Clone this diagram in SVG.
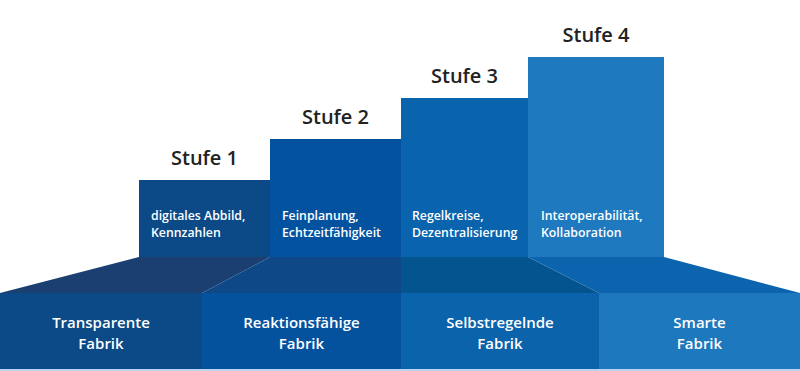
<svg xmlns="http://www.w3.org/2000/svg" width="800" height="371" viewBox="0 0 800 371">
<style>
.h{font-family:"Open Sans","Noto Sans",sans-serif;font-weight:600;font-size:20px;fill:#222;text-anchor:middle}
.t{font-family:"Open Sans","Noto Sans",sans-serif;font-weight:600;font-size:12.3px;fill:#fff}
.b{font-family:"Open Sans","Noto Sans",sans-serif;font-weight:600;font-size:15px;fill:#fff;text-anchor:middle}
</style>
<rect width="800" height="371" fill="#fff"/>
<g id="base">
<rect x="0" y="368.5" width="800" height="2.5" fill="#bcd4ec"/>
<g id="fabrik1">
<polygon points="139,257 270,257 202,293 0,293" fill="#1a3f70"/>
<rect x="0" y="293" width="202" height="76" fill="#0b4a86"/>
<text class="b" x="101" y="328">Transparente</text>
<text class="b" x="101" y="349">Fabrik</text>
</g>
<g id="fabrik2">
<polygon points="270,257 401,257 401,293 202,293" fill="#0f4887"/>
<rect x="202" y="293" width="199" height="76" fill="#04529e"/>
<text class="b" x="301.5" y="328">Reaktionsfähige</text>
<text class="b" x="301.5" y="349">Fabrik</text>
</g>
<g id="fabrik3">
<polygon points="401,257 528,257 599,293 401,293" fill="#04558f"/>
<rect x="401" y="293" width="198" height="76" fill="#0a63ab"/>
<text class="b" x="500" y="328">Selbstregelnde</text>
<text class="b" x="500" y="349">Fabrik</text>
</g>
<g id="fabrik4">
<polygon points="528,257 664,257 800,293 599,293" fill="#0b64ad"/>
<rect x="599" y="293" width="201" height="76" fill="#1e78be"/>
<text class="b" x="699.5" y="328">Smarte</text>
<text class="b" x="699.5" y="349">Fabrik</text>
</g>
</g>
<g id="stufe1">
<rect x="139" y="180" width="131" height="77" fill="#0b4a87"/>
<text class="h" x="204.5" y="165">Stufe 1</text>
<text class="t" x="151" y="220">digitales Abbild,</text>
<text class="t" x="151" y="237">Kennzahlen</text>
</g>
<g id="stufe2">
<rect x="270" y="139" width="131" height="118" fill="#03529f"/>
<text class="h" x="335.5" y="124">Stufe 2</text>
<text class="t" x="282" y="220">Feinplanung,</text>
<text class="t" x="282" y="237">Echtzeitfähigkeit</text>
</g>
<g id="stufe3">
<rect x="401" y="98" width="127" height="159" fill="#0a63ad"/>
<text class="h" x="464.5" y="83">Stufe 3</text>
<text class="t" x="412" y="220">Regelkreise,</text>
<text class="t" x="412" y="237">Dezentralisierung</text>
</g>
<g id="stufe4">
<rect x="528" y="57" width="136" height="200" fill="#1e79bf"/>
<text class="h" x="596" y="42">Stufe 4</text>
<text class="t" x="541" y="220">Interoperabilität,</text>
<text class="t" x="541" y="237">Kollaboration</text>
</g>
<g id="connectors"/>
</svg>
